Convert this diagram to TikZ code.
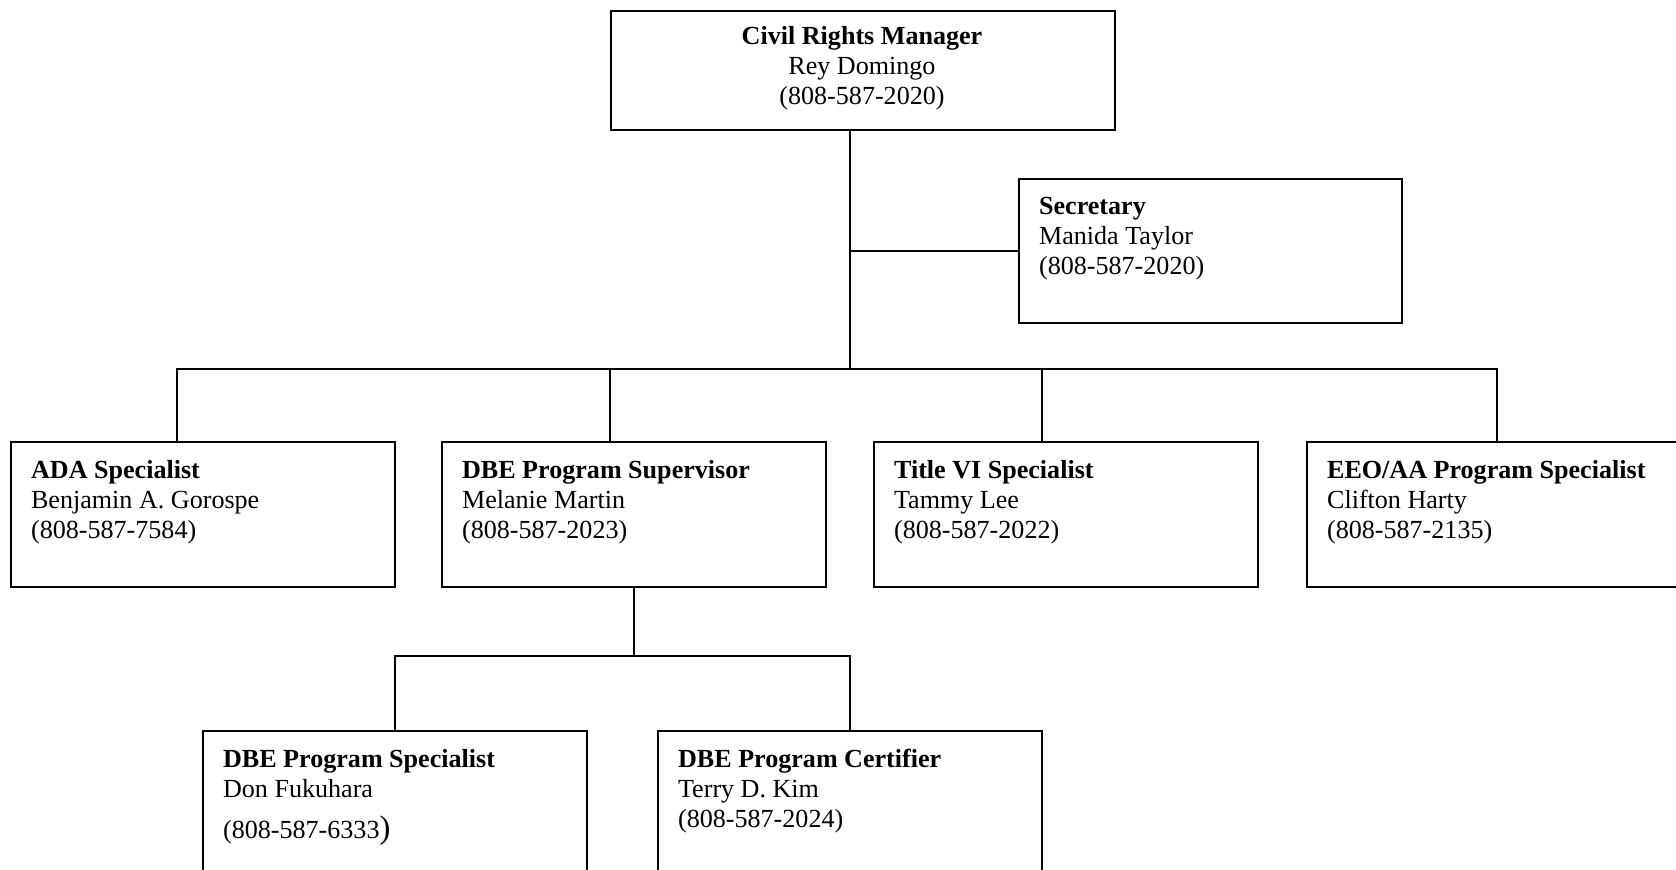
\documentclass[tikz,border=0pt]{standalone}
\usepackage{fontspec}
\setmainfont{Liberation Serif}

\begin{document}
\begin{tikzpicture}[x=0.46pt, y=-0.46pt, line width=1pt,
        every node/.style={font=\fontsize{12}{13.8}\selectfont},
        post/.style={draw, rectangle, anchor=north west, inner sep=0pt,
            minimum width=176.6pt, minimum height=66.7pt},
        info/.style={anchor=north west, inner sep=0pt, align=left}]
            \clip (0,0) rectangle (1676,870);

            \node[post, minimum width=231.8pt, minimum height=54.7pt] (mgr) at (610,10) {};
            \node[align=center, inner sep=0pt] (mgrtxt) at (862,68)
                {\textbf{Civil Rights Manager}\\Rey Domingo\\(808-587-2020)};

            \node[post, minimum width=176.2pt, minimum height=66.2pt] (sec) at (1018,178) {};
            \node[info] (sectxt) at ([shift={(20,18)}]sec.north west)
                {\textbf{Secretary}\\Manida Taylor\\(808-587-2020)};

            \node[post] (ada) at (10,441) {};
            \node[post] (sup) at (441,441) {};
            \node[post] (title) at (873,441) {};
            \node[post] (eeo) at (1306,441) {};

            \node[info] (adatxt) at ([shift={(20,18)}]ada.north west)
                {\textbf{ADA Specialist}\\Benjamin A. Gorospe\\(808-587-7584)};
            \node[info] (suptxt) at ([shift={(20,18)}]sup.north west)
                {\textbf{DBE Program Supervisor}\\Melanie Martin\\(808-587-2023)};
            \node[info] (titletxt) at ([shift={(20,18)}]title.north west)
                {\textbf{Title VI Specialist}\\Tammy Lee\\(808-587-2022)};
            \node[info] (eeotxt) at ([shift={(20,18)}]eeo.north west)
                {\textbf{EEO/AA Program Specialist}\\Clifton Harty\\(808-587-2135)};

            \node[post, minimum height=69pt] (spec) at (202,730) {};
            \node[post, minimum height=69pt] (cert) at (657,730) {};

            \node[info] (spectxt) at ([shift={(20,18)}]spec.north west)
                {\textbf{DBE Program Specialist}\\Don Fukuhara\\[5pt](808-587-6333{\fontsize{15}{16}\selectfont)}};
            \node[info] (certtxt) at ([shift={(20,18)}]cert.north west)
                {\textbf{DBE Program Certifier}\\Terry D. Kim\\(808-587-2024)};

            % branch points
            \coordinate (hub) at (850,369);
            \coordinate (drop1) at (177,369);
            \coordinate (drop2) at (610,369);
            \coordinate (drop3) at (1042,369);
            \coordinate (drop4) at (1497,369);
            \coordinate (split) at (635,656);

            \draw (mgr.south -| hub) -- (hub);
            \draw (hub |- sec.west) -- (sec.west);
            \draw (drop1 |- ada.north) -- (drop1) -- (drop4) -- (drop4 |- eeo.north);
            \draw (drop2) -- (drop2 |- sup.north);
            \draw (drop3) -- (drop3 |- title.north);

            \draw (sup.south) -- (sup.south |- split);
            \draw (spec.north) |- (split) -| (cert.north);

        \end{tikzpicture}
\end{document}
